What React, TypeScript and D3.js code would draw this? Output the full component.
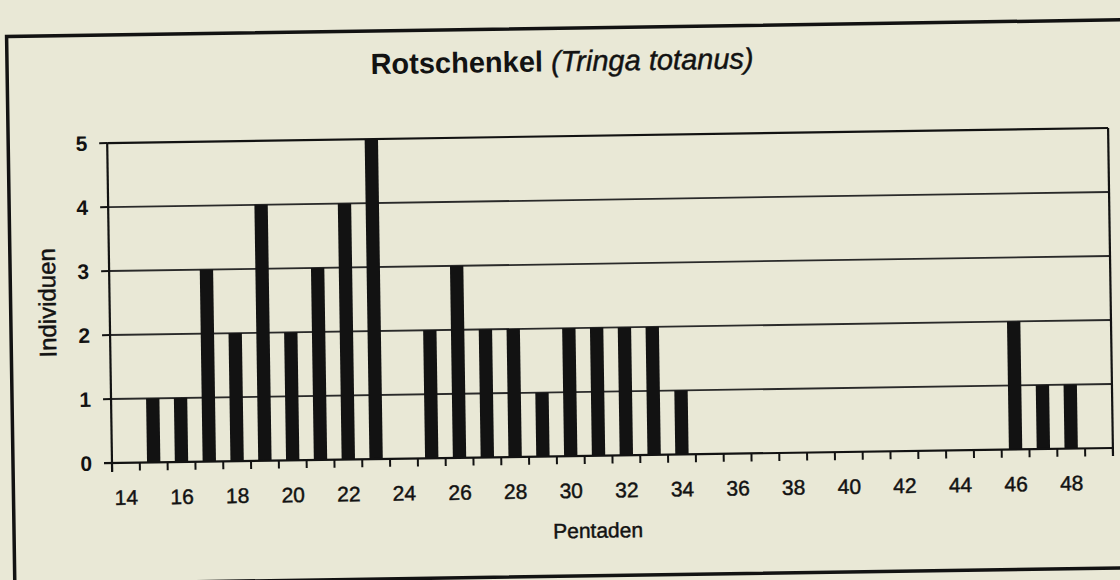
import React from "react";
import * as d3 from "d3";

// Pentaden (5-day periods) and counted individuals
const pentaden = [
  14, 15, 16, 17, 18, 19, 20, 21, 22, 23, 24, 25, 26, 27, 28, 29, 30, 31,
  32, 33, 34, 35, 36, 37, 38, 39, 40, 41, 42, 43, 44, 45, 46, 47, 48, 49,
];
const individuen = [
  0, 1, 1, 3, 2, 4, 2, 3, 4, 5, 0, 2, 3, 2, 2, 1, 2, 2,
  2, 2, 1, 0, 0, 0, 0, 0, 0, 0, 0, 0, 0, 0, 2, 1, 1, 0,
];
const xTickLabels = [14, 16, 18, 20, 22, 24, 26, 28, 30, 32, 34, 36, 38, 40, 42, 44, 46, 48];
const yTicks = [0, 1, 2, 3, 4, 5];

const width = 1120;
const height = 580;
const paper = "#e9e8d6";
const ink = "#121212";
const font = "Arial, 'Liberation Sans', sans-serif";

const App: React.FC = () => {
  const plot = { left: 112, right: 1113, top: 143, bottom: 463 };

  const x = d3
    .scaleBand<number>()
    .domain(pentaden)
    .range([plot.left, plot.right])
    .padding(0);

  const xBar = d3
    .scaleBand<number>()
    .domain(pentaden)
    .range([plot.left, plot.right])
    .paddingInner(0.52)
    .paddingOuter(0.26);

  const y = d3.scaleLinear().domain([0, 5]).range([plot.bottom, plot.top]);

  const data = pentaden.map((p, i) => ({ p, v: individuen[i] }));
  const boundaries = [...pentaden.map((p) => x(p) as number), plot.right];

  // scanned print looks a bit heavier than plain text
  const heavy = { stroke: ink, strokeWidth: 0.45 };

  return (
    <svg
      width={width}
      height={height}
      style={{ position: "absolute", left: 0, top: 0, display: "block" }}
    >
      <rect width={width} height={height} fill={paper} />

      {/* the scan is turned a little, so is the drawing */}
      <g transform={`rotate(-0.86 ${plot.left} ${plot.bottom})`}>
        <rect
          x={13}
          y={35}
          width={1200}
          height={548}
          fill="none"
          stroke={ink}
          strokeWidth={3.5}
        />

        <text x={568} y={78} textAnchor="middle" fontFamily={font} fontSize={29} fill={ink}>
          <tspan fontWeight="bold">Rotschenkel </tspan>
          <tspan fontStyle="italic" {...heavy}>(Tringa totanus)</tspan>
        </text>

        {/* grid */}
        {yTicks.slice(1, 5).map((t) => (
          <line
            key={`g${t}`}
            x1={plot.left}
            x2={plot.right}
            y1={y(t)}
            y2={y(t)}
            stroke="#2a2a2a"
            strokeWidth={1.8}
          />
        ))}
        <line x1={plot.left} x2={plot.right} y1={y(5)} y2={y(5)} stroke={ink} strokeWidth={2.2} />
        <line x1={plot.right} x2={plot.right} y1={y(5)} y2={y(0) + 8} stroke={ink} strokeWidth={2.2} />

        {/* bars */}
        {data.map((d) => (
          <rect
            key={d.p}
            x={xBar(d.p)}
            y={y(d.v)}
            width={xBar.bandwidth()}
            height={y(0) - y(d.v)}
            fill={ink}
          />
        ))}

        {/* axes */}
        <line x1={plot.left - 8} x2={plot.right} y1={y(0)} y2={y(0)} stroke={ink} strokeWidth={2.2} />
        <line x1={plot.left} x2={plot.left} y1={y(5)} y2={y(0) + 9} stroke={ink} strokeWidth={2.2} />
        {yTicks.map((t) => (
          <g key={`y${t}`}>
            <line x1={plot.left - 8} x2={plot.left} y1={y(t)} y2={y(t)} stroke={ink} strokeWidth={2} />
            <text
              x={plot.left - 20}
              y={y(t)}
              dy="0.36em"
              textAnchor="end"
              fontFamily={font}
              fontWeight="bold"
              fontSize={21}
              fill={ink}
            >
              {t}
            </text>
          </g>
        ))}
        {boundaries.map((bx, i) => (
          <line key={`xt${i}`} x1={bx} x2={bx} y1={y(0)} y2={y(0) + 8} stroke={ink} strokeWidth={2} />
        ))}
        {xTickLabels.map((l) => (
          <text
            key={`xl${l}`}
            x={(x(l) as number) + x.bandwidth() / 2}
            y={505}
            textAnchor="middle"
            fontFamily={font}
            fontSize={21}
            fill={ink}
            {...heavy}
          >
            {l}
          </text>
        ))}

        <text x={597} y={545} textAnchor="middle" fontFamily={font} fontSize={21} fill={ink} {...heavy}>
          Pentaden
        </text>
        <text
          transform="translate(58,302) rotate(-90)"
          textAnchor="middle"
          fontFamily={font}
          fontSize={24}
          fill={ink}
          {...heavy}
        >
          Individuen
        </text>
      </g>
    </svg>
  );
};

export default App;
